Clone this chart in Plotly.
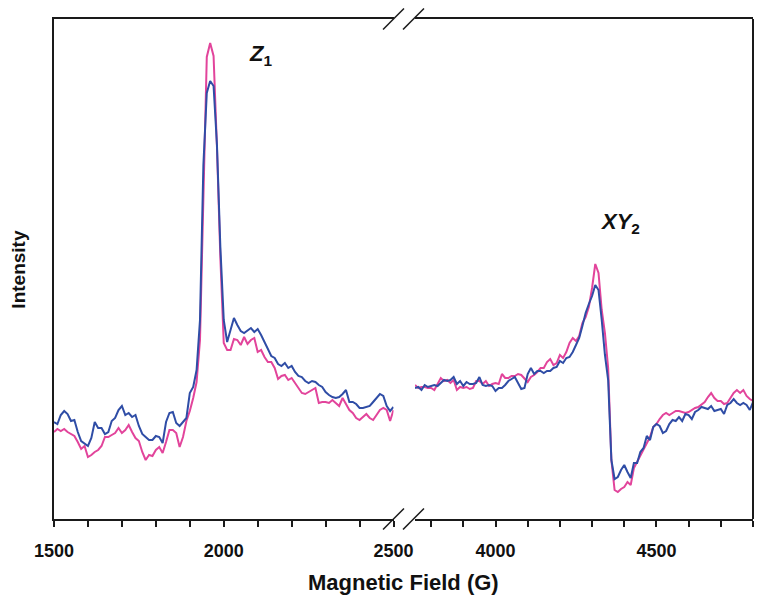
import plotly.graph_objects as go

# ---------------- data (field in G, intensity in arbitrary units) ----------------
field_low = list(range(1500, 2501, 10))
blue_low = [97, 95, 104, 108, 105, 98, 99, 87, 78, 75,
            73, 81, 97, 91, 91, 85, 87, 98, 101, 109,
            113, 104, 106, 102, 104, 93, 85, 82, 79, 79,
            83, 82, 76, 97, 106, 107, 96, 93, 97, 101,
            126, 132, 149, 199, 354, 426, 438, 433, 374, 272,
            199, 177, 189, 201, 194, 188, 186, 189, 191, 187,
            190, 184, 177, 170, 163, 161, 155, 153, 156, 151,
            153, 147, 143, 142, 138, 136, 138, 137, 134, 132,
            127, 124, 122, 121, 122, 125, 129, 117, 117, 115,
            111, 111, 112, 113, 117, 121, 125, 123, 113, 108,
            112]
pink_low = [87, 90, 88, 90, 87, 85, 83, 77, 70, 73,
            62, 64, 67, 69, 73, 82, 82, 84, 86, 91,
            86, 89, 94, 87, 81, 78, 67, 59, 64, 63,
            69, 72, 66, 77, 89, 89, 86, 72, 82, 98,
            108, 121, 137, 179, 329, 462, 476, 463, 372, 261,
            176, 169, 169, 180, 179, 174, 182, 175, 179, 181,
            167, 169, 162, 157, 157, 151, 140, 143, 144, 139,
            141, 136, 131, 126, 125, 127, 129, 131, 116, 117,
            117, 116, 119, 116, 113, 121, 115, 109, 106, 101,
            99, 102, 105, 101, 99, 104, 109, 111, 109, 98,
            109]

field_high = list(range(3750, 4801, 10))
blue_high = [131, 132, 129, 134, 132, 133, 134, 133, 136, 139,
             138, 139, 142, 135, 138, 133, 137, 135, 135, 136,
             142, 134, 133, 134, 133, 128, 131, 131, 134, 138,
             140, 142, 136, 130, 131, 145, 151, 145, 148, 148,
             146, 148, 148, 151, 152, 158, 156, 161, 162, 167,
             174, 181, 193, 206, 215, 223, 234, 229, 199, 164,
             139, 59, 40, 42, 49, 54, 47, 41, 56, 56,
             67, 71, 83, 79, 92, 95, 93, 86, 88, 95,
             99, 98, 102, 98, 105, 104, 100, 107, 109, 112,
             111, 110, 113, 108, 109, 110, 105, 114, 116, 120,
             116, 114, 116, 114, 109, 117]
pink_high = [134, 131, 132, 132, 131, 131, 129, 135, 141, 138,
             139, 136, 139, 129, 132, 131, 132, 130, 131, 138,
             138, 135, 138, 133, 135, 136, 135, 145, 141, 141,
             143, 143, 145, 144, 141, 137, 142, 144, 147, 151,
             151, 157, 160, 154, 156, 164, 161, 167, 176, 181,
             178, 183, 196, 202, 212, 231, 255, 246, 209, 186,
             151, 59, 29, 27, 30, 32, 37, 34, 51, 57,
             63, 69, 76, 82, 92, 95, 100, 104, 106, 104,
             106, 108, 108, 107, 106, 107, 109, 111, 112, 115,
             117, 122, 126, 121, 118, 118, 115, 116, 121, 126,
             129, 126, 129, 123, 120, 118]

major_low = [1500, 2000, 2500]
major_high = [4000, 4500]
minor_step = 100

PINK = "#E2449B"
BLUE = "#2F4DA6"
FONT = "Liberation Sans, Arial, sans-serif"
INK = "#1a1a1a"

fig = go.Figure()
fig.add_trace(go.Scatter(x=field_low, y=pink_low, mode="lines",
                         line=dict(color=PINK, width=2), xaxis="x", yaxis="y"))
fig.add_trace(go.Scatter(x=field_low, y=blue_low, mode="lines",
                         line=dict(color=BLUE, width=2), xaxis="x", yaxis="y"))
fig.add_trace(go.Scatter(x=field_high, y=pink_high, mode="lines",
                         line=dict(color=PINK, width=2), xaxis="x2", yaxis="y"))
fig.add_trace(go.Scatter(x=field_high, y=blue_high, mode="lines",
                         line=dict(color=BLUE, width=2), xaxis="x2", yaxis="y"))

axis_common = dict(showline=True, linecolor=INK, linewidth=2, mirror=True,
                   ticks="outside", ticklen=6, tickwidth=1.5, tickcolor=INK,
                   showgrid=False, zeroline=False, automargin=False,
                   tickfont=dict(family=FONT, size=18, color="#111", weight="bold"),
                   ticklabelstandoff=8)

# page body adds an 8px offset, so the figure is sized to fit the window
fig.update_layout(
    template="none",
    width=748, height=587,
    margin=dict(l=46, r=3, t=11, b=76, autoexpand=False),
    paper_bgcolor="white", plot_bgcolor="white",
    showlegend=False,
    xaxis=dict(domain=[0, 0.4857], range=[1500, 2500], tickmode="array",
               tickvals=major_low, anchor="y",
               minor=dict(ticks="outside", ticklen=6, tickwidth=1.5, tickcolor=INK,
                          tick0=1500, dtick=minor_step, showgrid=False),
               **axis_common),
    xaxis2=dict(domain=[0.5165, 1], range=[3750, 4800], tickmode="array",
                tickvals=major_high, anchor="y",
                minor=dict(ticks="outside", ticklen=6, tickwidth=1.5, tickcolor=INK,
                           tick0=3800, dtick=minor_step, showgrid=False),
                **axis_common),
    yaxis=dict(range=[0, 500], showline=True, linecolor=INK, linewidth=2,
               showticklabels=False, ticks="", showgrid=False, zeroline=False,
               automargin=False),
)

# right frame edge and axis break marks
shapes = [dict(type="line", xref="paper", yref="paper", x0=1, x1=1, y0=0, y1=1,
               line=dict(color=INK, width=2))]
for yb in (0.0, 1.0):
    for x0 in (0.4707, 0.4993):
        shapes.append(dict(type="line", xref="paper", yref="paper",
                           x0=x0, x1=x0 + 0.03, y0=yb - 0.021, y1=yb + 0.021,
                           line=dict(color=INK, width=1.5)))
fig.update_layout(shapes=shapes)

fig.add_annotation(x=2107, y=464, xref="x", yref="y", showarrow=False,
                   text="<b><i>Z</i><sub>1</sub></b>",
                   font=dict(family=FONT, size=22, color="#111"))
fig.add_annotation(x=4388, y=296, xref="x2", yref="y", showarrow=False,
                   text="<b><i>XY</i><sub>2</sub></b>",
                   font=dict(family=FONT, size=22, color="#111"))
fig.add_annotation(x=0.5, y=-0.126, xref="paper", yref="paper", showarrow=False,
                   text="<b>Magnetic Field (G)</b>", yanchor="middle",
                   font=dict(family=FONT, size=22, color="#111"))
fig.add_annotation(x=-0.052, y=0.5, xref="paper", yref="paper", showarrow=False,
                   text="<b>Intensity</b>", textangle=-90, xanchor="center",
                   font=dict(family=FONT, size=19, color="#111"))

fig.write_html("out.html")
